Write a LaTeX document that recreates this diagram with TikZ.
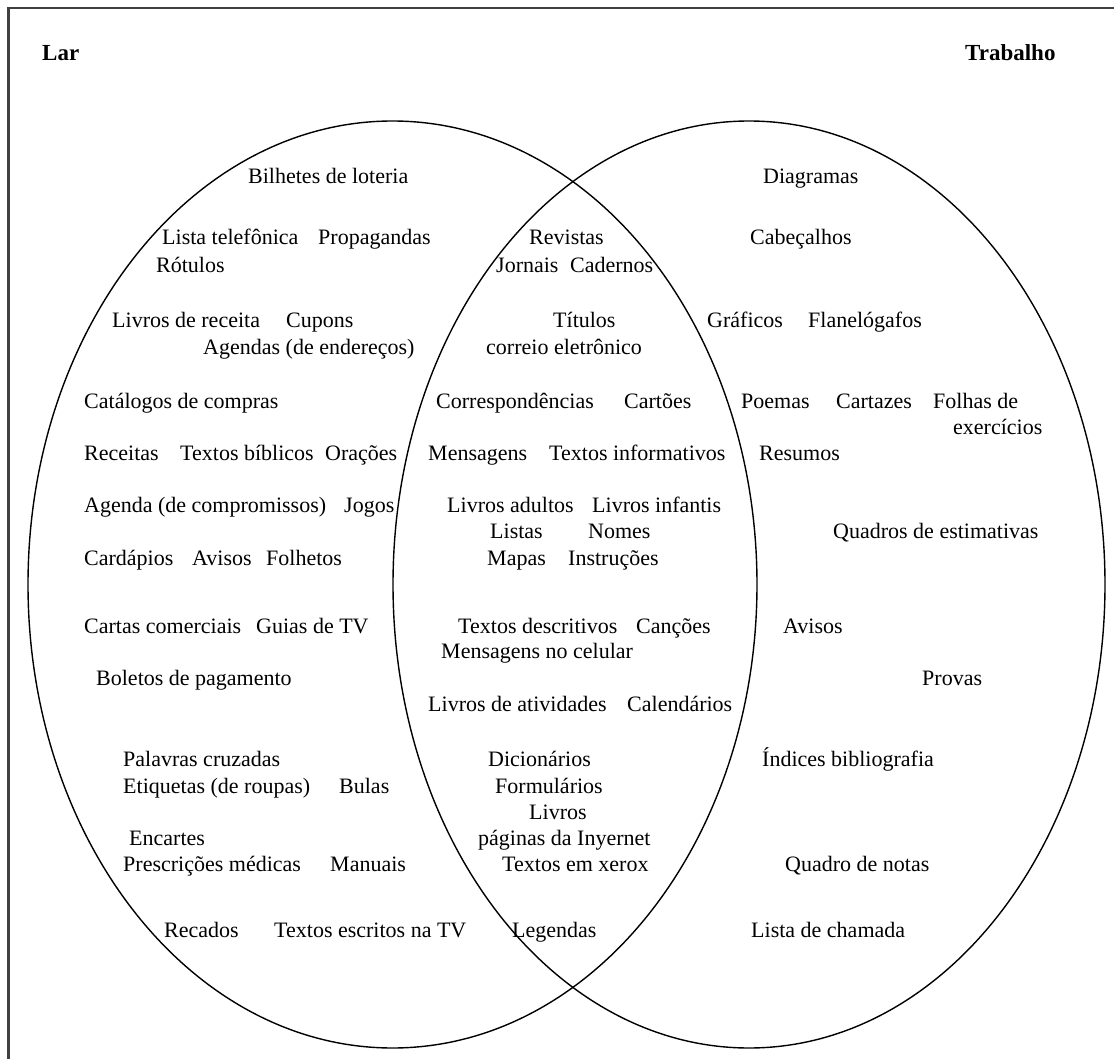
\documentclass[tikz,border=0pt]{standalone}
\usepackage{fontspec}
\setmainfont{Liberation Serif}

\tikzset{
    item/.style={anchor=west, inner sep=0pt, text height=20pt, text depth=4pt,
        font=\fontsize{22}{24}\selectfont},
    head/.style={item, font=\fontsize{23}{26}\selectfont\bfseries},
}

\begin{document}
\begin{tikzpicture}[x=1pt, y=-1pt]
    % page size
    \useasboundingbox (0, 0) rectangle (1114, 1059);
    % frame
    \draw[line width=2.2pt, black!75] (8.5, 1059) -- (8.5, 8) -- (1114, 8);
    % draw ellipses
    \draw[line width=1.4pt] (392.5, 584.5) ellipse (364.5pt and 463.5pt);
    \draw[line width=1.4pt] (749, 584.5) ellipse (356pt and 463.5pt);
    % titles
    \node[head] (lar) at (42, 53) {Lar};
    \node[head] (trabalho) at (965, 53) {Trabalho};
    % Lar only
    \foreach \x/\y/\nm/\txt in {
        248/176/bilhetes/Bilhetes de loteria,
        162/237/telefonica/Lista telefônica,
        318/237/propagandas/Propagandas,
        156/265/rotulos/Rótulos,
        112/320/receita/Livros de receita,
        286/320/cupons/Cupons,
        203/347/agendas/Agendas (de endereços),
        84/400/catalogos/Catálogos de compras,
        84/452/receitas/Receitas,
        180/452/biblicos/Textos bíblicos,
        325/452/oracoes/Orações,
        84/504/agenda/Agenda (de compromissos),
        344/504/jogos/Jogos,
        84/557/cardapios/Cardápios,
        192/557/avisosL/Avisos,
        266/557/folhetos/Folhetos,
        84/625/cartas/Cartas comerciais,
        256/625/guias/Guias de TV,
        96/677/boletos/Boletos de pagamento,
        123/758/palavras/Palavras cruzadas,
        123/785/etiquetas/Etiquetas (de roupas),
        339/785/bulas/Bulas,
        129/837/encartes/Encartes,
        123/863/prescricoes/Prescrições médicas,
        330/863/manuais/Manuais,
        164/929/recados/Recados,
        274/929/escritos/Textos escritos na TV}
        \node[item] (\nm) at (\x, \y) {\txt};
    % both
    \foreach \x/\y/\nm/\txt in {
        529/237/revistas/Revistas,
        496/265/jornais/Jornais,
        570/265/cadernos/Cadernos,
        553/320/titulos/Títulos,
        486/347/correio/correio eletrônico,
        436/400/correspondencias/Correspondências,
        624/400/cartoes/Cartões,
        428/452/mensagens/Mensagens,
        549/452/informativos/Textos informativos,
        447/504/adultos/Livros adultos,
        592/504/infantis/Livros infantis,
        490/530/listas/Listas,
        588/530/nomes/Nomes,
        487/557/mapas/Mapas,
        568/557/instrucoes/Instruções,
        458/625/descritivos/Textos descritivos,
        636/625/cancoes/Canções,
        441/650/celular/Mensagens no celular,
        428/703/atividades/Livros de atividades,
        627/703/calendarios/Calendários,
        488/758/dicionarios/Dicionários,
        495/785/formularios/Formulários,
        529/811/livros/Livros,
        478/837/paginas/páginas da Inyernet,
        502/863/xerox/Textos em xerox,
        512/929/legendas/Legendas}
        \node[item] (\nm) at (\x, \y) {\txt};
    % Trabalho only
    \foreach \x/\y/\nm/\txt in {
        763/176/diagramas/Diagramas,
        750/237/cabecalhos/Cabeçalhos,
        707/320/graficos/Gráficos,
        808/320/flanelografos/Flanelógafos,
        741/400/poemas/Poemas,
        836/400/cartazes/Cartazes,
        933/400/folhas/Folhas de,
        953/426/exercicios/exercícios,
        759/452/resumos/Resumos,
        833/530/quadros/Quadros de estimativas,
        783/625/avisosT/Avisos,
        922/677/provas/Provas,
        762/758/indices/Índices bibliografia,
        785/863/notas/Quadro de notas,
        751/929/chamada/Lista de chamada}
        \node[item] (\nm) at (\x, \y) {\txt};
\end{tikzpicture}
\end{document}
